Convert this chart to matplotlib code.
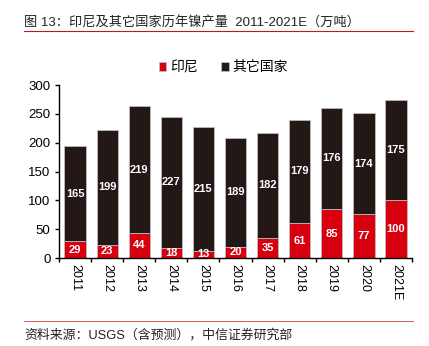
import matplotlib.pyplot as plt
import numpy as np

plt.rcParams['font.family'] = ['Liberation Sans', 'Noto Sans CJK SC']

years = ['2011', '2012', '2013', '2014', '2015', '2016', '2017', '2018', '2019', '2020', '2021E']
indonesia = [29, 23, 44, 18, 13, 20, 35, 61, 85, 77, 100]
others = [165, 199, 219, 227, 215, 189, 182, 179, 176, 174, 175]

RED = '#d7000f'
DARK = '#231815'

fig = plt.figure(figsize=(4.29, 3.46), dpi=100)
ax = fig.add_axes([0.1375, 0.254, 0.823, 0.50])

x = np.arange(len(years))
w = 0.66
ax.bar(x, indonesia, w, color=RED, edgecolor='#bbbbbb', linewidth=0.6, label='印尼')
ax.bar(x, others, w, bottom=indonesia, color=DARK, edgecolor='#bbbbbb', linewidth=0.6, label='其它国家')

for i in range(len(years)):
    ax.text(x[i], indonesia[i] / 2, str(indonesia[i]), ha='center', va='center',
            color='white', fontsize=8, fontweight='bold')
    ax.text(x[i], indonesia[i] + others[i] / 2, str(others[i]), ha='center', va='center',
            color='white', fontsize=8, fontweight='bold')

ax.set_xlim(-0.5, len(years) - 0.5)
ax.set_ylim(0, 300)
ax.set_yticks(range(0, 301, 50))
ax.tick_params(axis='y', labelsize=9.5, length=3, width=1, pad=3)
# category ticks sit between bars, labels centred under bars
ax.set_xticks(np.arange(-0.5, len(years), 1))
ax.set_xticklabels([])
ax.set_xticks(x, minor=True)
ax.set_xticklabels(years, minor=True, rotation=270, fontsize=9)
ax.tick_params(axis='x', which='major', direction='out', length=3, width=1)
ax.tick_params(axis='x', which='minor', length=0, pad=4)
for s in ['top', 'right']:
    ax.spines[s].set_visible(False)
ax.spines['left'].set_linewidth(1)
ax.spines['bottom'].set_linewidth(1)

ax.legend(loc='upper center', bbox_to_anchor=(0.465, 1.215), ncol=2, frameon=False,
          fontsize=10, handlelength=0.55, handleheight=0.55, handletextpad=0.25,
          columnspacing=1.7)

fig.text(0.056, 0.922, '图 13：印尼及其它国家历年镍产量  2011-2021E（万吨）',
         fontsize=9.5, color='#222222', va='baseline')
fig.add_artist(plt.Line2D([0.056, 0.962], [0.91, 0.91], color='#c0161f', linewidth=0.8))
fig.add_artist(plt.Line2D([0.056, 0.962], [0.072, 0.072], color='#d04040', linewidth=0.6))
fig.text(0.056, 0.022, '资料来源：USGS（含预测），中信证券研究部',
         fontsize=9.3, color='#222222', va='baseline')

fig.savefig('out.png', dpi=100)
